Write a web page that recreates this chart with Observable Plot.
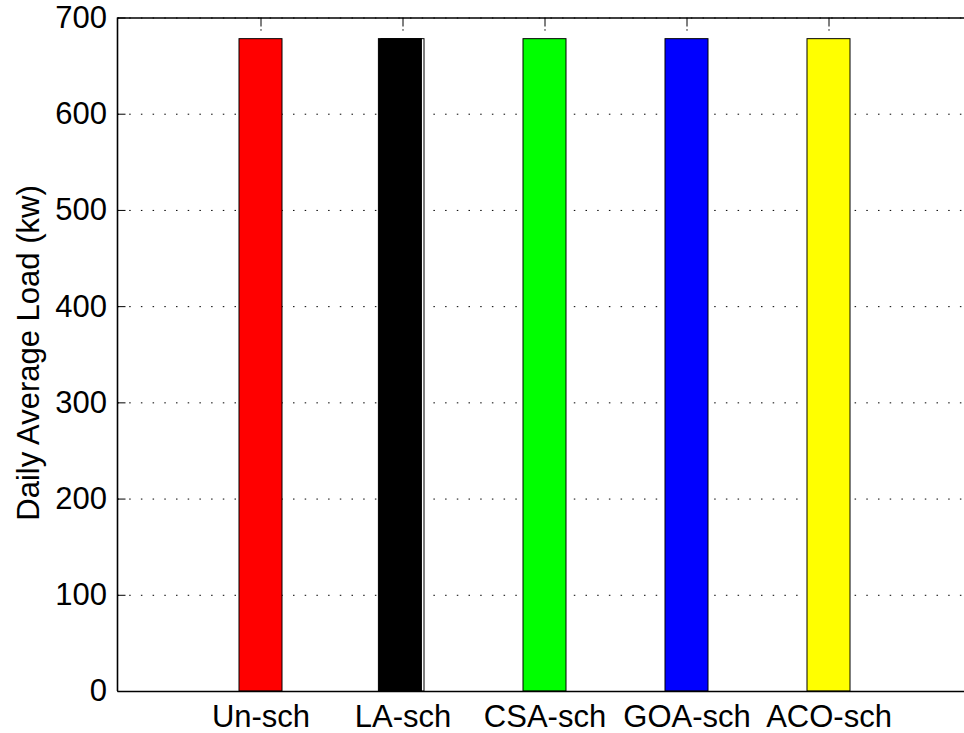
<!DOCTYPE html>
<html><head><meta charset="utf-8">
<script src="https://cdn.jsdelivr.net/npm/d3@7"></script>
<script src="https://cdn.jsdelivr.net/npm/@observablehq/plot@0.6"></script>
<style>body{margin:0;background:#fff} svg{display:block}</style>
</head><body><div id="chart"></div>
<script>
const categories = ["Un-sch", "LA-sch", "CSA-sch", "GOA-sch", "ACO-sch"];
const values = [678, 678, 678, 678, 678];
const colors = ["#ff0000", "#000000", "#00ff00", "#0000ff", "#ffff00"];
const yTicks = [0, 100, 200, 300, 400, 500, 600, 700];
const yLabel = "Daily Average Load (kw)";

const data = categories.map((c, i) => ({name: c, value: values[i], color: colors[i]}));
const doubled = data.filter(d => d.name === "LA-sch");
const single = data.filter(d => d.name !== "LA-sch");

const dots = "1.5,10.2";
const plot = Plot.plot({
  width: 964, height: 733,
  marginLeft: 117.5, marginRight: 0, marginTop: 17.5, marginBottom: 42,
  style: {fontFamily: "'Liberation Sans', Arial, sans-serif", fontSize: "31px", background: "#fff", color: "#000"},
  x: {type: "band", domain: categories, range: [189, 899], paddingInner: 0.7, paddingOuter: 0.35, label: null},
  y: {domain: [0, 700], label: null},
  color: {type: "identity"},
  marks: [
    Plot.gridY(yTicks, {stroke: "#000", strokeOpacity: 1, strokeDasharray: dots, strokeWidth: 1}),
    Plot.gridX(categories, {stroke: "#000", strokeOpacity: 1, strokeDasharray: dots, strokeWidth: 1}),
    Plot.axisY(yTicks, {anchor: "left", tickSize: 0, tickPadding: 11, label: null, tickFormat: d => String(d)}),
    Plot.axisY(yTicks, {anchor: "left", tickSize: 8, dx: 8, text: null, label: null}),
    Plot.axisX(categories, {anchor: "top", tickSize: 8, dy: 8, text: null, label: null}),
    Plot.axisX(categories, {anchor: "bottom", tickSize: 8, dy: -8, text: null, label: null}),
    Plot.axisX(categories, {anchor: "bottom", tickSize: 0, tickPadding: 13, label: null}),
    Plot.barY(single, {x: "name", y: "value", fill: "color", stroke: "#000"}),
    Plot.barY(doubled, {x: "name", y: "value", fill: "#fff", stroke: "#000"}),
    Plot.barY(doubled, {x: "name", y: "value", fill: "color", stroke: "#000", dx: -2.6}),
    Plot.ruleY([0, 700], {strokeWidth: 1.6})
  ]
});

const svg = d3.select(plot);
svg.append("line")
  .attr("x1", 117.5).attr("x2", 117.5).attr("y1", 17.5).attr("y2", 691)
  .attr("stroke", "#000").attr("stroke-width", 1.6);
svg.append("text")
  .attr("transform", "translate(39,353) rotate(-90)")
  .attr("text-anchor", "middle")
  .attr("fill", "#000")
  .text(yLabel);

document.getElementById("chart").appendChild(plot);
</script>
</body></html>
